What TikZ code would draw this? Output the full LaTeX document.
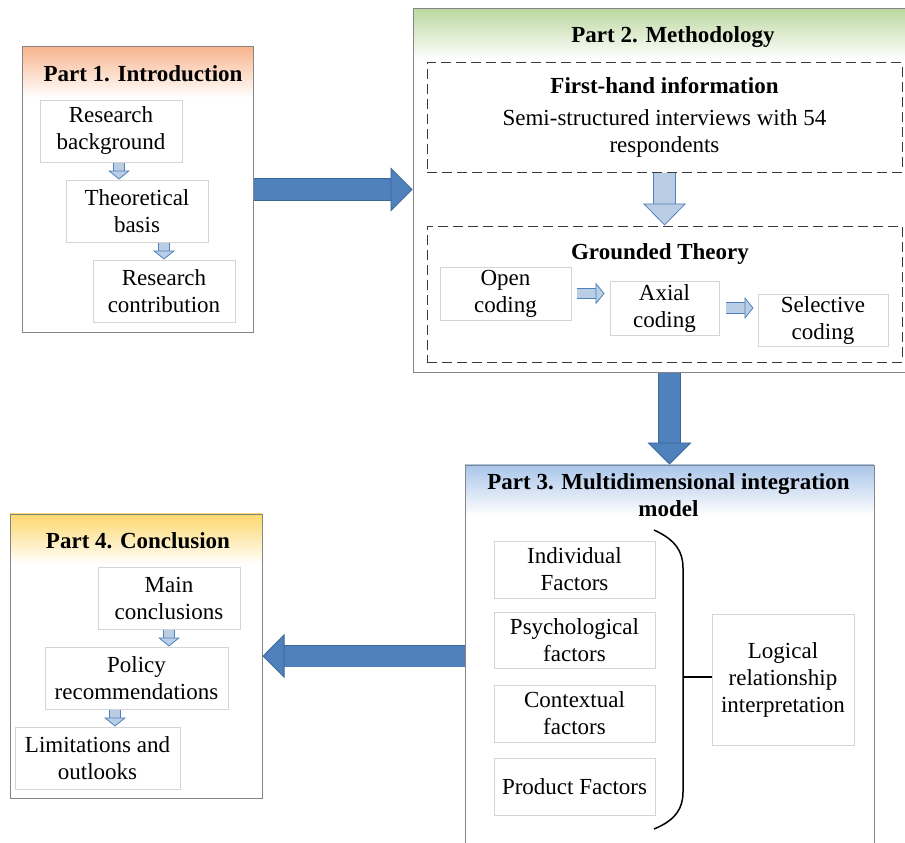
\documentclass[tikz,border=0pt]{standalone}
\usepackage{fontspec}
\setmainfont{Liberation Serif}
\usetikzlibrary{arrows.meta,positioning,calc,backgrounds}
\definecolor{Frame}{HTML}{858585}
\definecolor{Soft}{HTML}{D4D4D4}
\definecolor{Dash}{HTML}{3A3A3A}
\definecolor{Steel}{HTML}{4F81BD}
\definecolor{SteelDark}{HTML}{3B6799}
\definecolor{Ice}{HTML}{B9CDE5}
\definecolor{Peach}{HTML}{F8B58D}
\definecolor{Sage}{HTML}{BCD8A0}
\definecolor{Sky}{HTML}{A9C5E9}
\definecolor{Butter}{HTML}{FDD86C}
\tikzset{
 txt/.style={font=\fontsize{23}{27}\selectfont,align=center},
 partbox/.style={draw=Frame,line width=1pt,inner sep=0pt},
 partbar/.style={top color=#1,bottom color=white,inner sep=0pt},
 parttitle/.style={txt,font=\fontsize{23}{27}\selectfont\bfseries},
 itembox/.style={txt,draw=Soft,line width=1pt,fill=white,inner sep=2pt},
 groupbox/.style={draw=Dash,line width=1pt,dash pattern=on 10pt off 5pt,inner sep=0pt},
 bigarr/.style={draw=SteelDark,line width=0.8pt,double=Steel,double distance=21pt,
   -{Triangle[length=22pt,width=44pt,fill=Steel]}},
 midarr/.style={draw=Steel,line width=0.8pt,double=Ice,double distance=21pt,
   -{Triangle[length=22pt,width=43pt,fill=Ice]}},
 smallarr/.style={draw=Steel,line width=0.8pt,double=Ice,double distance=9.5pt,
   -{Triangle[length=9pt,width=22pt,fill=Ice]}},
 brace/.style={line width=1.5pt,draw=black}
}
\begin{document}
\begin{tikzpicture}[x=1pt,y=-1pt]
\clip (0,0) rectangle (905,843);
% Part 1
\node[partbox,minimum width=231pt,minimum height=285pt] (p1) at (137.5,189.5) {};
\begin{scope}[on background layer]
\node[partbar=Peach,minimum width=231pt,minimum height=51pt,anchor=north] (h1) at (p1.north) {};
\end{scope}
\node[parttitle] (t1) at (143,74) {Part 1. Introduction};
\node[itembox,minimum width=142pt,minimum height=62pt] (rb) at (111,131) {Research\\background};
\node[itembox,minimum width=142pt,minimum height=62pt] (tb) at (137,211) {Theoretical\\basis};
\node[itembox,minimum width=142pt,minimum height=62pt] (rc) at (164,291) {Research\\contribution};
\draw[smallarr] ([xshift=8pt]rb.south) -- ([xshift=-18pt]tb.north);
\draw[smallarr] ([xshift=27pt]tb.south) -- (rc.north);
% Part 2
\node[partbox,minimum width=520pt,minimum height=363pt] (p2) at (673,190.5) {};
\begin{scope}[on background layer]
\node[partbar=Sage,minimum width=520pt,minimum height=51pt,anchor=north] (h2) at (p2.north) {};
\end{scope}
\node[parttitle] (t2) at (673,37) {Part 2. Methodology};
\node[groupbox,txt,minimum width=475pt,minimum height=109pt] (fb) at (664.5,117.5)
  {\textbf{First-hand information}\\[5pt]Semi-structured interviews with 54\\respondents};
\node[groupbox,minimum width=475pt,minimum height=136pt] (gt) at (664.5,294) {};
\node[parttitle] (gtt) at (660,254) {Grounded Theory};
\node[itembox,minimum width=131pt,minimum height=53pt] (oc) at (505.5,293.5) {Open\\coding};
\node[itembox,minimum width=109pt,minimum height=54pt] (ac) at (664.5,308) {Axial\\coding};
\node[itembox,minimum width=130pt,minimum height=52pt] (sc) at (823,320) {Selective\\coding};
\draw[midarr] (fb.south) -- (gt.north);
\draw[smallarr,shorten <=5pt,shorten >=5pt] (oc.east) -- (oc.east -| ac.west);
\draw[smallarr,shorten <=6pt,shorten >=4pt] (ac.east) -- (ac.east -| sc.west);
% Part 3
\node[partbox,minimum width=409pt,minimum height=395pt] (p3) at (669.5,662.5) {};
\begin{scope}[on background layer]
\node[partbar=Sky,minimum width=409pt,minimum height=51pt,anchor=north] (h3) at (p3.north) {};
\end{scope}
\node[parttitle] (t3) at (668.5,495.5) {Part 3. Multidimensional integration\\model};
\node[itembox,minimum width=161pt,minimum height=57pt] (f1) at (574.5,569.5) {Individual\\Factors};
\node[itembox,minimum width=161pt,minimum height=56pt] (f2) at (574.5,640) {Psychological\\factors};
\node[itembox,minimum width=161pt,minimum height=57pt] (f3) at (574.5,713.5) {Contextual\\factors};
\node[itembox,minimum width=161pt,minimum height=57pt] (f4) at (574.5,786.5) {Product Factors};
\node[itembox,minimum width=142pt,minimum height=131pt] (lr) at (783,679.5) {Logical\\relationship\\interpretation};
\draw[brace] (654,530) .. controls (676,540) and (683,552) .. (683,568) -- (683,792)
  .. controls (683,808) and (676,820) .. (654,829);
\coordinate (bmid) at (683,677);
\draw[brace] (bmid) -- (bmid -| lr.west);
% Part 4
\node[partbox,minimum width=252pt,minimum height=284pt] (p4) at (136,656) {};
\begin{scope}[on background layer]
\node[partbar=Butter,minimum width=252pt,minimum height=51pt,anchor=north] (h4) at (p4.north) {};
\end{scope}
\node[parttitle] (t4) at (138,541) {Part 4. Conclusion};
\node[itembox,minimum width=142pt,minimum height=62pt] (mc) at (169,598) {Main\\conclusions};
\node[itembox,minimum width=183pt,minimum height=62pt] (pr) at (136.5,678) {Policy\\recommendations};
\node[itembox,minimum width=165pt,minimum height=62pt] (lo) at (97.5,758) {Limitations and\\outlooks};
\draw[smallarr] (mc.south) -- ([xshift=32.5pt]pr.north);
\draw[smallarr] ([xshift=-21.5pt]pr.south) -- ([xshift=17.5pt]lo.north);
% big arrows between parts
\draw[bigarr] (p1.east) -- (p1.east -| p2.west);
\draw[bigarr] (p3.north |- p2.south) -- (p3.north);
\draw[bigarr] (p4.east -| p3.west) -- (p4.east);
\end{tikzpicture}
\end{document}
